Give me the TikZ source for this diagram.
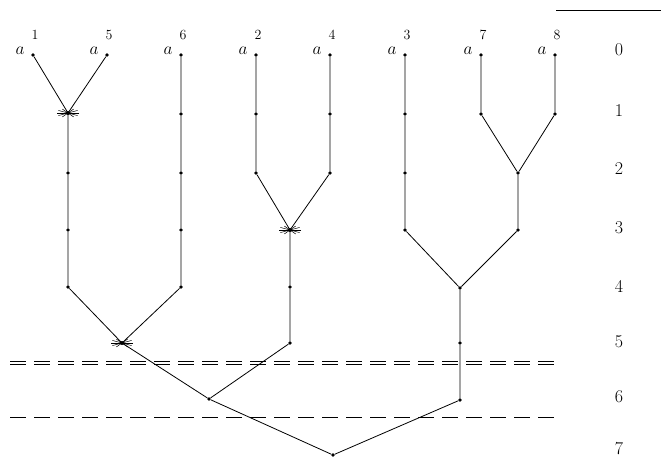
\documentclass[tikz,border=0pt]{standalone}
\usetikzlibrary{calc}
\begin{document}
\begin{tikzpicture}[x=1pt,y=-1pt,
  dot/.style={circle,fill=black,inner sep=0pt,minimum size=3.6pt},
  edge/.style={line width=0.8pt},
  alab/.style={font=\fontsize{17}{20}\selectfont,inner sep=1pt},
  slab/.style={font=\fontsize{14}{16}\selectfont,inner sep=1pt},
  lev/.style={font=\fontsize{18}{20}\selectfont,inner sep=1pt},
  dash1/.style={line width=0.6pt,dash pattern=on 16pt off 8pt},
  starmark/.style={line width=0.5pt}]
\useasboundingbox (0,0) rectangle (661,461);
% leaves
\foreach \n/\x/\s in {1/33/1,5/107/5,6/181/6,2/256/2,4/330/4,3/405/3,7/481/7,8/555/8}{
  \node[dot] (a\n) at (\x,55) {};
  \node[alab] at ($(a\n)+(-13,-4)$) {$a$};
  \node[slab] at ($(a\n)+(2,-20)$) {\s};
}
% internal points
\coordinate (m15) at (68,113);
\node[dot] (p1) at (68,173) {};
\node[dot] (p2) at (68,230) {};
\node[dot] (p3) at (68,287) {};
\node[dot] (q1) at (181,114) {};
\node[dot] (q2) at (181,173) {};
\node[dot] (q3) at (181,230) {};
\node[dot] (q4) at (181,287) {};
\coordinate (m156) at (122,343);
\node[dot] (r1) at (256,114) {};
\node[dot] (r2) at (256,173) {};
\node[dot] (s1) at (330,114) {};
\node[dot] (s2) at (330,173) {};
\coordinate (m24) at (290,230);
\node[dot] (t1) at (290,287) {};
\node[dot] (t2) at (290,343) {};
\node[dot] (m6) at (209,399) {};
\node[dot] (u1) at (405,114) {};
\node[dot] (u2) at (405,173) {};
\node[dot] (u3) at (405,230) {};
\node[dot] (v1) at (481,114) {};
\node[dot] (w1) at (555,114) {};
\node[dot] (m78) at (518,173) {};
\node[dot] (x1) at (518,230) {};
\node[dot] (m378) at (460,288) {};
\node[dot] (y1) at (460,343) {};
\node[dot] (y2) at (460,400) {};
\node[dot] (root) at (333,455) {};
% edges
\draw[edge] (a1) -- (m15) -- (a5);
\draw[edge] (m15) -- (p1) -- (p2) -- (p3) -- (m156);
\draw[edge] (a6) -- (q1) -- (q2) -- (q3) -- (q4) -- (m156);
\draw[edge] (a2) -- (r1) -- (r2) -- (m24);
\draw[edge] (a4) -- (s1) -- (s2) -- (m24);
\draw[edge] (m24) -- (t1) -- (t2) -- (m6);
\draw[edge] (m156) -- (m6) -- (root);
\draw[edge] (a3) -- (u1) -- (u2) -- (u3) -- (m378);
\draw[edge] (a7) -- (v1) -- (m78);
\draw[edge] (a8) -- (w1) -- (m78);
\draw[edge] (m78) -- (x1) -- (m378);
\draw[edge] (m378) -- (y1) -- (y2) -- (root);
% star marks
\foreach \c in {m15,m24,m156}{
  \fill (\c) circle (2pt);
  \foreach \a/\l in {0/11,15/10,-15/10,35/7,-35/7}{
    \draw[starmark] ($(\c)+(\a:\l)$) -- ($(\c)+(\a+180:\l)$);
  }
}
% dashed lines
\coordinate (d1l) at (10,361); \coordinate (d1r) at (555,361);
\coordinate (d2l) at (10,364); \coordinate (d2r) at (555,364);
\coordinate (d3l) at (10,417); \coordinate (d3r) at (555,417);
\draw[dash1] (d1l) -- (d1r);
\draw[dash1] (d2l) -- (d2r);
\draw[dash1] (d3l) -- (d3r);
% top line
\coordinate (tl) at (556,10); \coordinate (tr) at (661,10);
\draw[line width=0.8pt] (tl) -- (tr);
% level labels
\foreach \i/\y in {0/50,1/111,2/169,3/228,4/286,5/342,6/397,7/449}{
  \node[lev] (lev\i) at (619,\y) {\i};
}
\end{tikzpicture}
\end{document}
